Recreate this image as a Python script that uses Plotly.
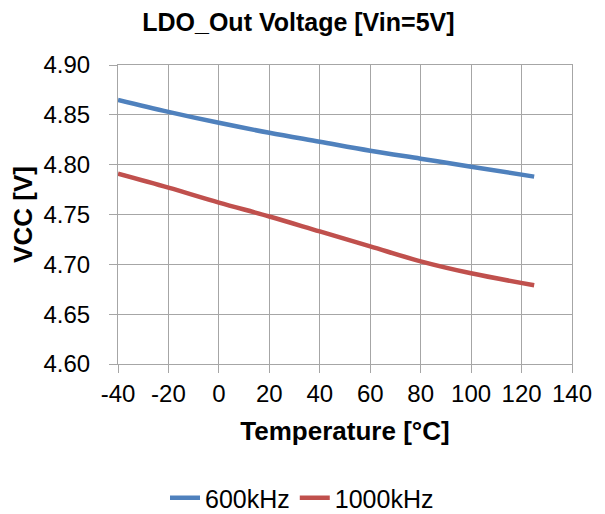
import plotly.graph_objects as go

temps = [-40, -20, 0, 20, 40, 60, 80, 100, 125]
vcc_600k = [4.865, 4.853, 4.842, 4.832, 4.823, 4.814, 4.806, 4.798, 4.788]
vcc_1000k = [4.791, 4.777, 4.762, 4.748, 4.733, 4.718, 4.703, 4.691, 4.679]

x_tickvals = [-40, -20, 0, 20, 40, 60, 80, 100, 120, 140]
x_ticktext = ["-40", "-20", "0", "20", "40", "60", "80", "100", "120", "140"]

FONT = "Liberation Sans, Arial, sans-serif"
GRID = "#A6A6A6"

# page body has an 8px margin, so the figure is offset by 8px
OFF = 8
W, H = 605 - 2 * OFF, 514
L, T = 118 - OFF, 65 - OFF
PW, PH = 454, 299

fig = go.Figure()
fig.add_trace(go.Scatter(x=temps, y=vcc_600k, mode="lines", name="600kHz",
                         line=dict(color="#4F81BD", width=4.5, shape="spline")))
fig.add_trace(go.Scatter(x=temps, y=vcc_1000k, mode="lines", name="1000kHz",
                         line=dict(color="#C0504D", width=4.5, shape="spline")))

fig.update_layout(
    width=W, height=H,
    margin=dict(l=L, r=W - L - PW, t=T, b=H - T - PH, pad=0, autoexpand=False),
    paper_bgcolor="white", plot_bgcolor="white",
    font=dict(family=FONT, color="black", size=24),
    title=dict(text="<b>LDO_Out Voltage [Vin=5V]</b>", x=(298.4 - OFF) / W, xref="container",
               xanchor="center", y=1 - (22 - OFF) / H, yref="container", yanchor="middle",
               font=dict(size=25, family=FONT, color="black")),
    legend=dict(orientation="h", x=(302 - 118) / PW, xanchor="center",
                y=-(498 - 364) / PH, yanchor="middle",
                font=dict(size=25, family=FONT), traceorder="normal", itemwidth=30),
    showlegend=True,
)
fig.update_xaxes(
    range=[-40, 140], tickmode="array", tickvals=x_tickvals, ticktext=x_ticktext,
    showgrid=True, gridcolor=GRID, gridwidth=1,
    showline=True, linecolor=GRID, linewidth=1, mirror=True,
    ticks="outside", ticklen=8, tickcolor=GRID,
    zeroline=False, automargin=False, ticklabelstandoff=0,
    tickfont=dict(size=24, family=FONT),
    title=dict(text="<b>Temperature [°C]</b>", font=dict(size=26, family=FONT), standoff=16),
)
fig.update_yaxes(
    range=[4.60, 4.90], tickmode="linear", tick0=4.60, dtick=0.05, tickformat=".2f",
    showgrid=True, gridcolor=GRID, gridwidth=1,
    showline=True, linecolor=GRID, linewidth=1, mirror=True,
    ticks="outside", ticklen=8, tickcolor=GRID,
    zeroline=False, automargin=False, ticklabelstandoff=14,
    tickfont=dict(size=24, family=FONT),
    title=dict(text="<b>VCC [V]</b>", font=dict(size=26, family=FONT), standoff=4),
)

fig.write_html("out.html")
